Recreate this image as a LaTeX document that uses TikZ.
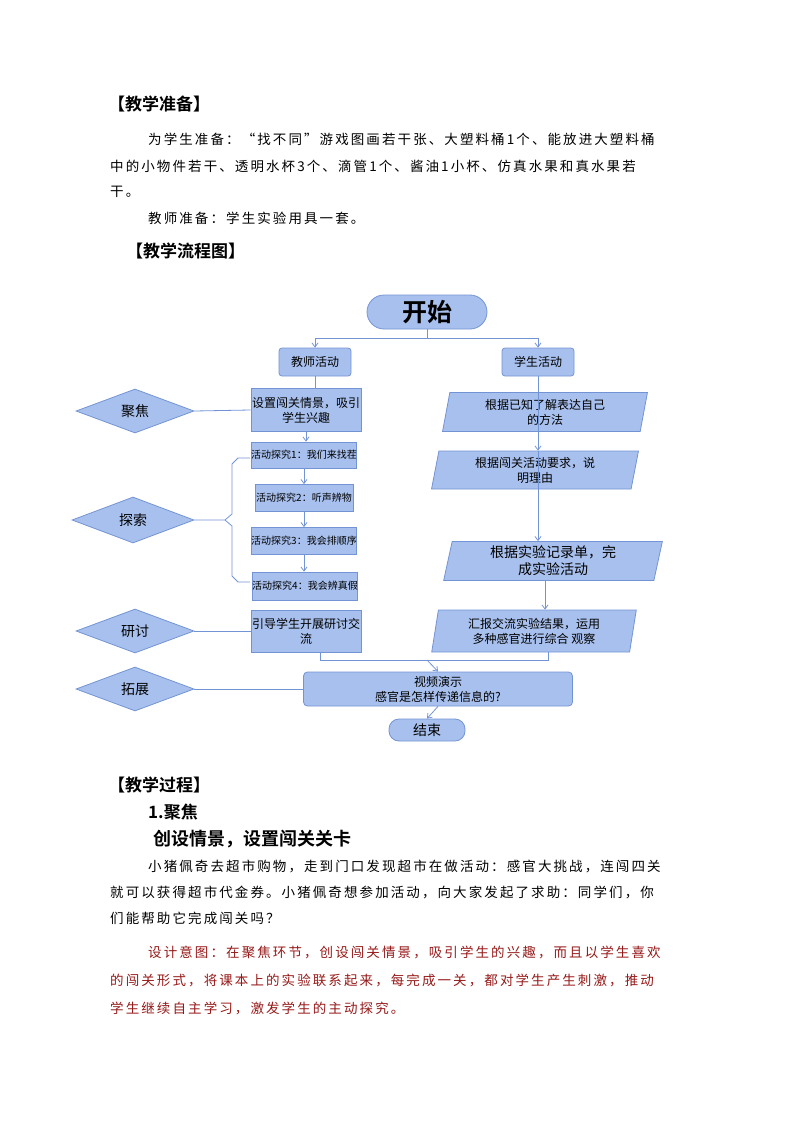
\documentclass[tikz,border=0pt]{standalone}
\usepackage{fontspec}
\setmainfont{Noto Sans CJK SC}
\newfontfamily\bodyf[LetterSpace=15.5]{Noto Sans CJK SC}
\newfontfamily\headf{Noto Sans CJK SC Bold}
\usetikzlibrary{shapes.geometric,arrows.meta}
\definecolor{bfill}{RGB}{168,192,238}
\definecolor{bline}{RGB}{115,148,212}
\definecolor{dred}{RGB}{150,25,25}
\tikzset{
  box/.style={draw=bline,fill=bfill,line width=0.8pt,align=center,font=\fontsize{12}{15}\selectfont,inner sep=1pt},
  rbox/.style={box,rounded corners=5pt},
  ebox/.style={box,minimum width=98pt,font=\fontsize{10}{12}\selectfont,inner sep=0pt},
  para/.style={box,trapezium,trapezium left angle=80,trapezium right angle=100,trapezium stretches=true,inner sep=0pt},
  dia/.style={box,diamond,aspect=2.7,inner sep=0pt,font=\fontsize{14}{15}\selectfont},
  ln/.style={draw=bline,line width=0.8pt},
  ar/.style={ln,-{Straight Barb[length=4pt,width=6pt]}},
  bt/.style={anchor=west,inner sep=0pt,font=\fontsize{13.5}{15}\bodyf},
  ht/.style={anchor=west,inner sep=0pt,font=\fontsize{17}{19}\headf},
}
\begin{document}
\begin{tikzpicture}[x=1pt,y=-1pt]
\useasboundingbox (0,0) rectangle (794,1123);
% top text
\node[ht] (h1) at (108,104) {【教学准备】};
\node[bt] (p1) at (148,139) {为学生准备：“找不同”游戏图画若干张、大塑料桶1个、能放进大塑料桶};
\node[bt] (p2) at (110,166) {中的小物件若干、透明水杯3个、滴管1个、酱油1小杯、仿真水果和真水果若};
\node[bt] (p3) at (110,192) {干。};
\node[bt] (p4) at (148,218) {教师准备：学生实验用具一套。};
\node[ht] (h2) at (126,251) {【教学流程图】};
% flowchart
\node[rbox,rounded corners=17pt,minimum width=120pt,minimum height=34pt,font=\fontsize{25}{27}\headf] (start) at (427,312) {开始};
\node[rbox,rounded corners=3pt,minimum width=72pt,minimum height=28pt] (ta) at (315,362) {教师活动};
\node[rbox,rounded corners=3pt,minimum width=72pt,minimum height=28pt] (sa) at (538,362) {学生活动};
\node[box,minimum width=100pt,minimum height=43pt] (t1) at (306,410) {设置闯关情景，吸引\\学生兴趣};
\node[ebox,minimum height=26pt] (e1) at (304,455) {活动探究1：我们来找茬};
\node[ebox,minimum height=27pt] (e2) at (304,498) {活动探究2：听声辨物};
\node[ebox,minimum height=27pt] (e3) at (304,541) {活动探究3：我会排顺序};
\node[ebox,minimum height=28pt] (e4) at (305,586) {活动探究4：我会辨真假};
\node[box,minimum width=99pt,minimum height=42pt] (t3) at (306,631) {引导学生开展研讨交\\流};
\node[rbox,rounded corners=4pt,minimum width=269pt,minimum height=34pt] (vid) at (438,689) {视频演示\\感官是怎样传递信息的?};
\node[rbox,rounded corners=10pt,minimum width=76pt,minimum height=22pt,font=\fontsize{14}{15}\selectfont] (end) at (427,730) {结束};
\node[para,minimum width=205pt,minimum height=39pt] (s1) at (545,412) {根据已知了解表达自己\\的方法};
\node[para,minimum width=207pt,minimum height=38pt] (s2) at (535,470) {根据闯关活动要求，说\\明理由};
\node[para,minimum width=219pt,minimum height=39pt,font=\fontsize{14}{17}\selectfont] (s3) at (553,561) {根据实验记录单，完\\成实验活动};
\node[para,minimum width=205pt,minimum height=42pt] (s4) at (534,631) {汇报交流实验结果，运用\\多种感官进行综合 观察};
\node[dia,minimum width=118pt,minimum height=44pt] (d1) at (135,411) {聚焦};
\node[dia,minimum width=122pt,minimum height=46pt] (d2) at (133,520) {探索};
\node[dia,minimum width=118pt,minimum height=44pt] (d3) at (135,631) {研讨};
\node[dia,minimum width=118pt,minimum height=44pt] (d4) at (135,689) {拓展};
\coordinate (sp) at (427,338);
\draw[ln] (start.south) -- (sp);
\draw[ar] (sp) -| (ta.north);
\draw[ar] (sp) -| (sa.north);
\draw[ln] (ta.south) -- (t1.north -| ta.south);
\draw[ar] (t1.south) -- (e1.north -| t1.south);
\draw[ar] (e1.south) -- (e2.north -| e1.south);
\draw[ar] (e2.south) -- (e3.north -| e2.south);
\draw[ar] (e3.south) -- (e4.north -| e3.south);
\draw[ln] (sa.south) -- (s1.north -| sa.south);
\draw[ar] (s1.north -| sa.south) -- (s2.north -| sa.south);
\draw[ar] (s2.north -| sa.south) -- (s3.north -| sa.south);
\draw[ar] (s3.south -| 545,0) -- (s4.north -| 545,0);
\draw[ln] (d1.east) -- (t1.west);
\draw[ln] (d3.east) -- (t3.west);
\draw[ln] (d4.east) -- (vid.west);
\coordinate (bj) at (427,660);
\draw[ln] (t3.south -| 320,0) |- (bj);
\draw[ln] (s4.south -| 548,0) |- (bj);
\draw[ar] (bj) -- (vid.north);
\draw[ar] (vid.south) -- (end.north);
\coordinate (bt) at (250,458);
\coordinate (bb) at (250,582);
\draw[ln] (bt) -- (238,458) -- (232,464) -- (232,514) -- (225,520) -- (d2.east);
\draw[ln] (225,520) -- (232,526) -- (232,576) -- (238,582) -- (bb);
% bottom text
\node[ht] (h3) at (108,785) {【教学过程】};
\node[ht] (h4) at (148,812) {1.聚焦};
\node[ht,font=\fontsize{18}{20}\headf] (h5) at (153,839) {创设情景，设置闯关关卡};
\node[bt] (q1) at (148,866) {小猪佩奇去超市购物，走到门口发现超市在做活动：感官大挑战，连闯四关};
\node[bt] (q2) at (110,892) {就可以获得超市代金券。小猪佩奇想参加活动，向大家发起了求助：同学们，你};
\node[bt] (q3) at (110,918) {们能帮助它完成闯关吗？};
\node[bt,text=dred] (r1) at (148,952) {设计意图：在聚焦环节，创设闯关情景，吸引学生的兴趣，而且以学生喜欢};
\node[bt,text=dred] (r2) at (110,980) {的闯关形式，将课本上的实验联系起来，每完成一关，都对学生产生刺激，推动};
\node[bt,text=dred] (r3) at (110,1008) {学生继续自主学习，激发学生的主动探究。};
\end{tikzpicture}
\end{document}
